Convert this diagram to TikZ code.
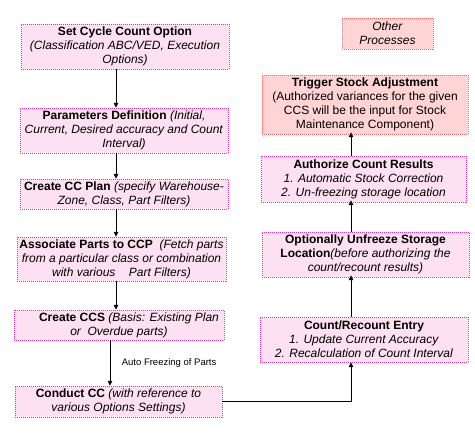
\documentclass[tikz,border=0pt]{standalone}
\usepackage{fontspec}
\setmainfont{Liberation Sans}
\usetikzlibrary{arrows.meta}

\tikzset{
  stepbox/.style={draw=magenta!80, dash pattern=on 1pt off 1pt, fill=magenta!12,
    align=center, inner sep=1pt, font=\fontsize{12}{14}\selectfont},
  otherbox/.style={stepbox, draw=red!60, fill=red!17},
  arr/.style={-{Triangle[length=5pt,width=4.5pt]}, line width=1pt}
}

\begin{document}
\begin{tikzpicture}[x=1pt,y=-1pt]
  \useasboundingbox[fill=white] (0,0) rectangle (475,439);%for adjustment

  % left column
  \node[stepbox, minimum width=208pt, minimum height=45pt] (sco) at (125,46.5)
    {\textbf{Set Cycle Count Option}\\\textit{(Classification ABC/VED, Execution}\\\textit{Options)}};
  \node[stepbox, minimum width=208pt, minimum height=45pt] (pd) at (124,130.5)
    {\textbf{Parameters Definition} \textit{(Initial,}\\\textit{Current, Desired accuracy and Count}\\\textit{Interval)}};
  \node[stepbox, minimum width=208pt, minimum height=30pt] (plan) at (124,194)
    {\textbf{Create CC Plan} \textit{(specify Warehouse-}\\\textit{Zone, Class, Part Filters)}};
  \node[stepbox, minimum width=209pt, minimum height=44pt] (assoc) at (121.5,259)
    {\textbf{Associate Parts to CCP}\ \ \textit{(Fetch parts}\\\textit{from a particular class or combination}\\\textit{with various\ \ \ \ Part Filters)}};
  \node[stepbox, minimum width=210pt, minimum height=30pt] (ccs) at (119,325)
    {\hspace*{20pt}\textbf{Create CCS} \textit{(Basis: Existing Plan}\\\textit{or\ \ Overdue parts)}};
  \node[stepbox, minimum width=207pt, minimum height=31pt] (conduct) at (118.5,401.5)
    {\textbf{Conduct CC} \textit{(with reference to}\\\textit{various Options Settings)}};

  % right column
  \node[otherbox, minimum width=91pt, minimum height=31pt] (other) at (387.5,33.5)
    {\textit{Other}\\\textit{Processes}};
  \node[otherbox, minimum width=206pt, minimum height=59pt] (trigger) at (365,104.5)
    {\textbf{Trigger Stock Adjustment}\\(Authorized variances for the given\\CCS will be the input for Stock\\Maintenance Component)};
  \node[stepbox, minimum width=205pt, minimum height=46pt] (auth) at (363.5,179)
    {\textbf{Authorize Count Results}\\\textit{1. Automatic Stock Correction}\\\textit{2. Un-freezing storage location}};
  \node[stepbox, minimum width=207pt, minimum height=45pt] (unfreeze) at (365.5,254.5)
    {\textbf{Optionally Unfreeze Storage}\\\textbf{Location}\textit{(before authorizing the}\\\textit{count/recount results)}};
  \node[stepbox, minimum width=208pt, minimum height=45pt] (count) at (364,339.5)
    {\textbf{Count/Recount\ Entry}\\\textit{1. Update Current Accuracy}\\\textit{2. Recalculation of Count Interval}};

  \coordinate (lx) at (116,0);
  \coordinate (fx) at (110,0);
  \coordinate (rx) at (351,0);

  \foreach \a/\b in {sco/pd,pd/plan,plan/assoc,assoc/ccs}{
    \draw[arr] (\a.south -| lx) -- (\b.north -| lx);
  }
  \draw[arr] (ccs.south -| fx) -- (conduct.north -| fx)
    node[midway, right=8pt, font=\fontsize{9.5}{11}\selectfont] {Auto Freezing of Parts};

  \draw[arr] (conduct.east) -| (count.south -| rx);
  \foreach \a/\b in {count/unfreeze,unfreeze/auth,auth/trigger}{
    \draw[arr] (\a.north -| rx) -- ([yshift=2pt]\b.south -| rx);
  }
\end{tikzpicture}
\end{document}
